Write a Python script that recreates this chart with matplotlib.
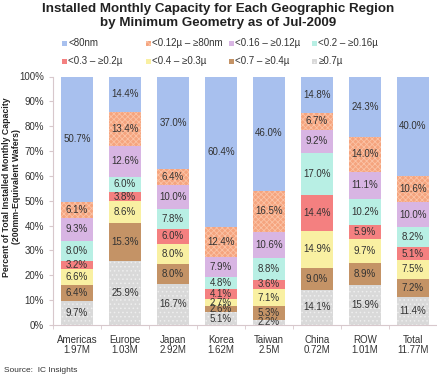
import numpy as np
import matplotlib.pyplot as plt
from matplotlib.patches import Rectangle

plt.rcParams['font.family'] = ['Liberation Sans', 'DejaVu Sans']
plt.rcParams['hatch.linewidth'] = 0.6

regions = ["Americas\n1.97M", "Europe\n1.03M", "Japan\n2.92M", "Korea\n1.62M",
           "Taiwan\n2.5M", "China\n0.72M", "ROW\n1.01M", "Total\n11.77M"]

# stacked from bottom (>=0.7u) to top (<80nm)
ge07 = [9.7, 25.9, 16.7, 5.1, 2.2, 14.1, 15.9, 11.4]
lt07 = [6.4, 15.3, 8.0, 2.6, 5.3, 9.0, 8.9, 7.2]
lt04 = [6.6, 8.6, 8.0, 2.7, 7.1, 14.9, 9.7, 7.5]
lt03 = [3.2, 3.8, 6.0, 4.1, 3.6, 14.4, 5.9, 5.1]
lt02 = [8.0, 6.0, 7.8, 4.8, 8.8, 17.0, 10.2, 8.2]
lt016 = [9.3, 12.6, 10.0, 7.9, 10.6, 9.2, 11.1, 10.0]
lt012 = [6.1, 13.4, 6.4, 12.4, 16.5, 6.7, 14.0, 10.6]
lt80 = [50.7, 14.4, 37.0, 60.4, 46.0, 14.8, 24.3, 40.0]

series = [
    ("≥0.7µ", ge07, "#d9d9d9", "#eeeeee", "...."),
    ("<0.7 – ≥0.4µ", lt07, "#c49366", "#b88656", None),
    ("<0.4 – ≥0.3µ", lt04, "#f9f0a2", "#f9f0a2", None),
    ("<0.3 – ≥0.2µ", lt03, "#f48080", "#f48080", None),
    ("<0.2 – ≥0.16µ", lt02, "#b8efe4", "#b8efe4", None),
    ("<0.16 – ≥0.12µ", lt016, "#d8b5e3", "#d8b5e3", None),
    ("<0.12µ – ≥80nm", lt012, "#f5a47e", "#fbc3a6", "xxxxxx"),
    ("<80nm", lt80, "#a8c0ee", "#a8c0ee", None),
]

W, H = 437, 376
fig = plt.figure(figsize=(W / 100, H / 100), dpi=100)
ax = fig.add_axes([53 / W, 1 - 325 / H, 384 / W, 248.5 / H])

x = np.arange(len(regions))
bottom = np.zeros(len(regions))
for name, vals, col, ecol, hatch in series:
    vals = np.array(vals)
    ax.bar(x, vals, 0.667, bottom=bottom, color=col, edgecolor=ecol,
           linewidth=0, hatch=hatch)
    for xi, v, b0 in zip(x, vals, bottom):
        ax.text(xi, b0 + v / 2, f"{v:.1f}%", ha='center', va='center',
                fontsize=7, color='#333333')
    bottom += vals

ax.set_xlim(-0.5, len(regions) - 0.5)
ax.set_ylim(0, 100)
ax.set_yticks(np.arange(0, 101, 10))
ax.set_yticklabels([f"{v}%" for v in range(0, 101, 10)], fontsize=7, color='#333333')
ax.set_xticks(x)
ax.set_xticklabels(regions, fontsize=7, color='#333333', linespacing=1.05)
ax.set_xticks(np.arange(-0.5, len(regions)), minor=True)
ax.tick_params(axis='x', which='major', length=0, pad=7)
ax.tick_params(axis='x', which='minor', length=3, color='#d8c8cc')
ax.tick_params(axis='y', length=3, color='#d8c8cc', pad=3.5)
for s in ['top', 'right']:
    ax.spines[s].set_visible(False)
for s in ['left', 'bottom']:
    ax.spines[s].set_color('#d8c8cc')
    ax.spines[s].set_linewidth(0.8)

fig.text(11.5 / W, 1 - 187 / H,
         "Percent of Total Installed Monthly Capacity\n(200mm-Equivalent Wafers)",
         rotation=90, ha='center', va='center', fontsize=6.3, fontweight='bold',
         color='#222222', linespacing=1.15, multialignment='center')

fig.text(0.5, 1 - 3 / H,
         "Installed Monthly Capacity for Each Geographic Region\nby Minimum Geometry as of Jul-2009",
         ha='center', va='top', fontsize=9.6, fontweight='bold', color='#222222',
         linespacing=1.2)

# legend, laid out in rows like the original
legend_order = [7, 6, 5, 4, 3, 2, 1, 0]
col_x = [62, 145.5, 228.5, 312]
row_y = [43.5, 61.5]
for k, si in enumerate(legend_order):
    name, vals, col, ecol, hatch = series[si]
    cx = col_x[k % 4]
    cy = row_y[k // 4]
    fig.add_artist(Rectangle((cx / W, 1 - (cy + 2.5) / H), 5 / W, 5 / H,
                             transform=fig.transFigure, facecolor=col,
                             edgecolor=ecol, linewidth=0, hatch=hatch))
    fig.text((cx + 6.5) / W, 1 - cy / H, name, ha='left', va='center',
             fontsize=7, color='#333333')

fig.text(4 / W, 1 - 370 / H, "Source:  IC Insights", fontsize=6, color='#333333',
         va='center')

fig.savefig("out.png", dpi=100)
